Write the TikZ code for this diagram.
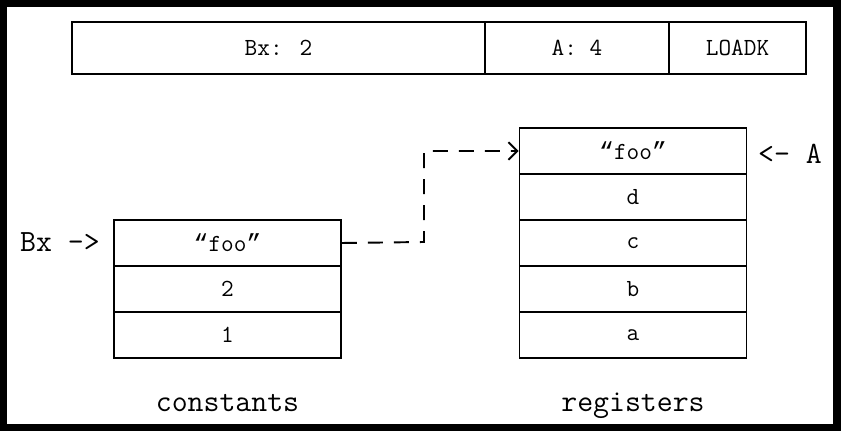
\documentclass[tikz,border=0pt]{standalone}
\usepackage{fontspec}
\newfontfamily\quotefont{Liberation Mono}
\newcommand{\quoted}[1]{{\quotefont “}#1{\quotefont ”}}
\usetikzlibrary{arrows.meta}
\tikzset{
  cell/.style={draw, line width=1.1pt, minimum width=4.54cm, minimum height=0.92cm,
    inner sep=0pt, font=\ttfamily\fontsize{14}{16}\selectfont},
  field/.style={cell, minimum height=1.04cm},
  tag/.style={font=\ttfamily\fontsize{17.6}{20}\selectfont},
  link/.style={line width=1.1pt, dash pattern=on 0.3cm off 0.22cm,
    -{Straight Barb[length=5pt,width=10pt,line width=1.1pt]}}
}
\begin{document}
\begin{tikzpicture}[x=0.02cm, y=-0.02cm]
      \useasboundingbox (0,0) rectangle (841,431);
      \fill[black] (0,0) rectangle (841,431);
      \fill[white] (7,7) rectangle (833,424);
      % instruction word
      \draw
        (278.5,48) node[field, minimum width=8.26cm] (bx){Bx: 2}
        (577,48) node[field, minimum width=3.68cm] (a){A: 4}
        (737.5,48) node[field, minimum width=2.74cm] (op){LOADK};
      % constants
      \draw
        (227.5,243) node[cell] (k1){\quoted{foo}}
        (227.5,289) node[cell] (k2){2}
        (227.5,335) node[cell] (k3){1};
      % registers
      \draw
        (633,151) node[cell] (r1){\quoted{foo}}
        (633,197) node[cell] (r2){d}
        (633,243) node[cell] (r3){c}
        (633,289) node[cell] (r4){b}
        (633,335) node[cell] (r5){a};
      \node[tag] (bxptr) at (60,242) {Bx ->};
      \node[tag] (aptr) at (790,154) {<- A};
      \node[tag, anchor=base] (klabel) at (227.5,412) {constants};
      \node[tag, anchor=base] (rlabel) at (633,412) {registers};
      \coordinate (bend) at (424,242);
      \draw[link] (k1.east) -- (bend) |- (r1.west);
    \end{tikzpicture}
\end{document}
